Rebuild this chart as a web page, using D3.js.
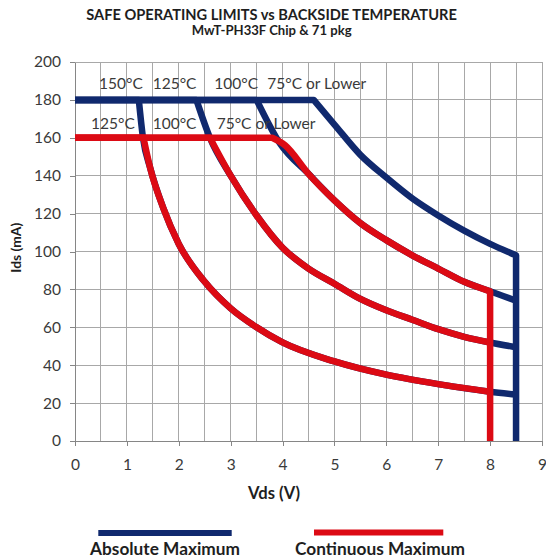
<!DOCTYPE html>
<html><head><meta charset="utf-8">
<script src="https://cdn.jsdelivr.net/npm/d3@7"></script>
<style>body{margin:0;background:#fff}svg{display:block}</style>
</head><body>
<svg id="c" width="546" height="560"></svg>
<script>
// ---- data ----
const xTicks = [0,1,2,3,4,5,6,7,8,9];
const yTicks = [0,20,40,60,80,100,120,140,160,180,200];
const absLabels = ["150°C","125°C","100°C","75°C or Lower"];
const contLabels = ["125°C","100°C","75°C or Lower"];
const legendLabels = ["Absolute Maximum","Continuous Maximum"];

const abs150_vds = [0,1.23,1.31,1.45,1.7,2.0,2.5,3.0,3.5,4.0,5.0,6.0,7.0,8.0,8.5];
const abs150_ids = [180,180,160,144,123,104,84,70,60,52,42,35,30,26,24.5];
const abs125_vds = [0,2.34,2.6,3.0,3.5,4.0,4.5,5.0,5.5,6.0,6.5,7.0,7.5,8.0,8.5];
const abs125_ids = [180,180,160,140,119,102,91,83,75,69,64,59,55,52,49.5];
const abs100_vds = [0,3.5,3.95,4.5,5.0,5.5,6.0,6.5,7.0,7.5,8.0,8.5];
const abs100_ids = [180,180,157,141,127,115,106,98,91,84,79,74];
const abs75_vds  = [0,4.6,5.0,5.5,6.0,6.5,7.0,7.5,8.0,8.5,8.5];
const abs75_ids  = [180,180,167,151,139,128,119,111,104,98,0];

const cont125_vds = [0,1.32,1.45,1.7,2.0,2.5,3.0,3.5,4.0,5.0,6.0,7.0,8.0];
const cont125_ids = [160,160,144,123,104,84,70,60,52,42,35,30,26];
const cont100_vds = [0,2.6,3.0,3.5,4.0,4.5,5.0,5.5,6.0,6.5,7.0,7.5,8.0];
const cont100_ids = [160,160,140,119,102,91,83,75,69,64,59,55,52];
const cont75_vds  = [0,3.8,4.05,4.5,5.0,5.5,6.0,6.5,7.0,7.5,8.0,8.0];
const cont75_ids  = [160,160,156,141,127,115,106,98,91,84,79,0];

const BLUE = "#10296e", RED = "#dc0a14";
const FONT = "Lato, 'Open Sans', sans-serif";

const svg = d3.select("#c");
const x = d3.scaleLinear().domain([0,9]).range([75,542]);
const y = d3.scaleLinear().domain([0,200]).range([441,62]);

function fit(sel, w){
  const l = sel.node().getComputedTextLength();
  sel.attr("font-size", parseFloat(sel.attr("font-size"))*w/l);
}

// grid
const g = svg.append("g");
g.selectAll(".vg").data(d3.range(0.5, 9.01, 0.5)).join("line")
  .attr("x1", d=>x(d)).attr("x2", d=>x(d)).attr("y1", y(0)).attr("y2", y(200))
  .attr("stroke","#a8a8a8").attr("stroke-width",1).attr("shape-rendering","crispEdges");
g.selectAll(".hg").data(yTicks.slice(1)).join("line")
  .attr("x1", x(0)).attr("x2", x(9)).attr("y1", d=>y(d)).attr("y2", d=>y(d))
  .attr("stroke","#a8a8a8").attr("stroke-width",1).attr("shape-rendering","crispEdges");

// axes
const xa = svg.append("g").attr("transform",`translate(0,${y(0)})`)
  .call(d3.axisBottom(x).tickValues(xTicks).tickSize(5).tickSizeOuter(0).tickPadding(13));
const ya = svg.append("g").attr("transform",`translate(${x(0)},0)`)
  .call(d3.axisLeft(y).tickValues(yTicks).tickSize(5).tickSizeOuter(0).tickPadding(9));
[xa, ya].forEach(a=>{
  a.select(".domain").attr("stroke","#868686").attr("shape-rendering","crispEdges");
  a.selectAll(".tick line").attr("stroke","#868686").attr("shape-rendering","crispEdges");
  a.selectAll(".tick text").attr("font-family",FONT).attr("font-size",15.5).attr("fill","#3a3a3a");
});

// curves
function curvePath(vds, ids){
  const pts = vds.map((v,i)=>[x(v), y(ids[i])]);
  const p = d3.path(); let started = false;
  const ctx = {
    moveTo(a,b){ if(!started){p.moveTo(a,b); started=true;} else p.lineTo(a,b); },
    lineTo(a,b){ p.lineTo(a,b); },
    bezierCurveTo(a,b,c,d,e,f){ p.bezierCurveTo(a,b,c,d,e,f); },
    closePath(){}
  };
  const n = pts.length;
  const hasVert = vds[n-1] === vds[n-2];
  const end = hasVert ? n-1 : n;
  d3.line().context(ctx)(pts.slice(0,2));
  d3.line().curve(d3.curveMonotoneX).context(ctx)(pts.slice(1,end));
  if (hasVert) d3.line().context(ctx)(pts.slice(n-2));
  return p.toString();
}
const absSeries = [[abs150_vds,abs150_ids],[abs125_vds,abs125_ids],[abs100_vds,abs100_ids],[abs75_vds,abs75_ids]];
const contSeries = [[cont125_vds,cont125_ids],[cont100_vds,cont100_ids],[cont75_vds,cont75_ids]];
const cg = svg.append("g").attr("fill","none").attr("stroke-width",6.5).attr("stroke-linejoin","round");
cg.selectAll(".abs").data(absSeries).join("path").attr("d", d=>curvePath(d[0],d[1])).attr("stroke",BLUE);
cg.selectAll(".cont").data(contSeries).join("path").attr("d", d=>curvePath(d[0],d[1])).attr("stroke",RED);

// curve labels
const absLabelX = [99,152.7,214.3,267.3];
const contLabelX = [91,152.7,216.7];
svg.append("g").selectAll("text").data(absLabels).join("text")
  .attr("x",(d,i)=>absLabelX[i]).attr("y",89).text(d=>d)
  .attr("font-family",FONT).attr("font-size",15.5).attr("fill","#3a3a3a");
svg.append("g").selectAll("text").data(contLabels).join("text")
  .attr("x",(d,i)=>contLabelX[i]).attr("y",129).text(d=>d)
  .attr("font-family",FONT).attr("font-size",15.5).attr("fill","#3a3a3a");

// titles
const t1 = svg.append("text").attr("x",271.5).attr("y",19.5).attr("text-anchor","middle")
  .attr("font-family",FONT).attr("font-weight",700).attr("font-size",15).attr("fill","#1e1e1e")
  .text("SAFE OPERATING LIMITS vs BACKSIDE TEMPERATURE");
fit(t1,371);
const t2 = svg.append("text").attr("x",271.7).attr("y",35).attr("text-anchor","middle")
  .attr("font-family",FONT).attr("font-weight",700).attr("font-size",12).attr("fill","#1e1e1e")
  .text("MwT-PH33F Chip & 71 pkg");
fit(t2,160);

// axis titles
const xl = svg.append("text").attr("x",274).attr("y",499).attr("text-anchor","middle")
  .attr("font-family",FONT).attr("font-weight",700).attr("font-size",14).attr("fill","#1e1e1e")
  .text("Vds (V)");
fit(xl,52);
const yl = svg.append("text").attr("transform","translate(20.5,247.7) rotate(-90)").attr("text-anchor","middle")
  .attr("font-family",FONT).attr("font-weight",700).attr("font-size",14).attr("fill","#1e1e1e")
  .text("Ids (mA)");
fit(yl,50);

// legend
const legLine = [[98.3,231.7,533,BLUE],[314,443.3,532.5,RED]];
const legTextX = [165,380], legTextW = [150,170];
const lg = svg.append("g");
lg.selectAll("line").data(legLine).join("line")
  .attr("x1",d=>d[0]).attr("x2",d=>d[1]).attr("y1",d=>d[2]).attr("y2",d=>d[2])
  .attr("stroke",d=>d[3]).attr("stroke-width",6);
legendLabels.forEach((t,i)=>{
  const tx = lg.append("text").attr("x",legTextX[i]).attr("y",555).attr("text-anchor","middle")
    .attr("font-family",FONT).attr("font-weight",700).attr("font-size",16).attr("fill","#1e1e1e").text(t);
  fit(tx, legTextW[i]);
});
</script>
</body></html>
